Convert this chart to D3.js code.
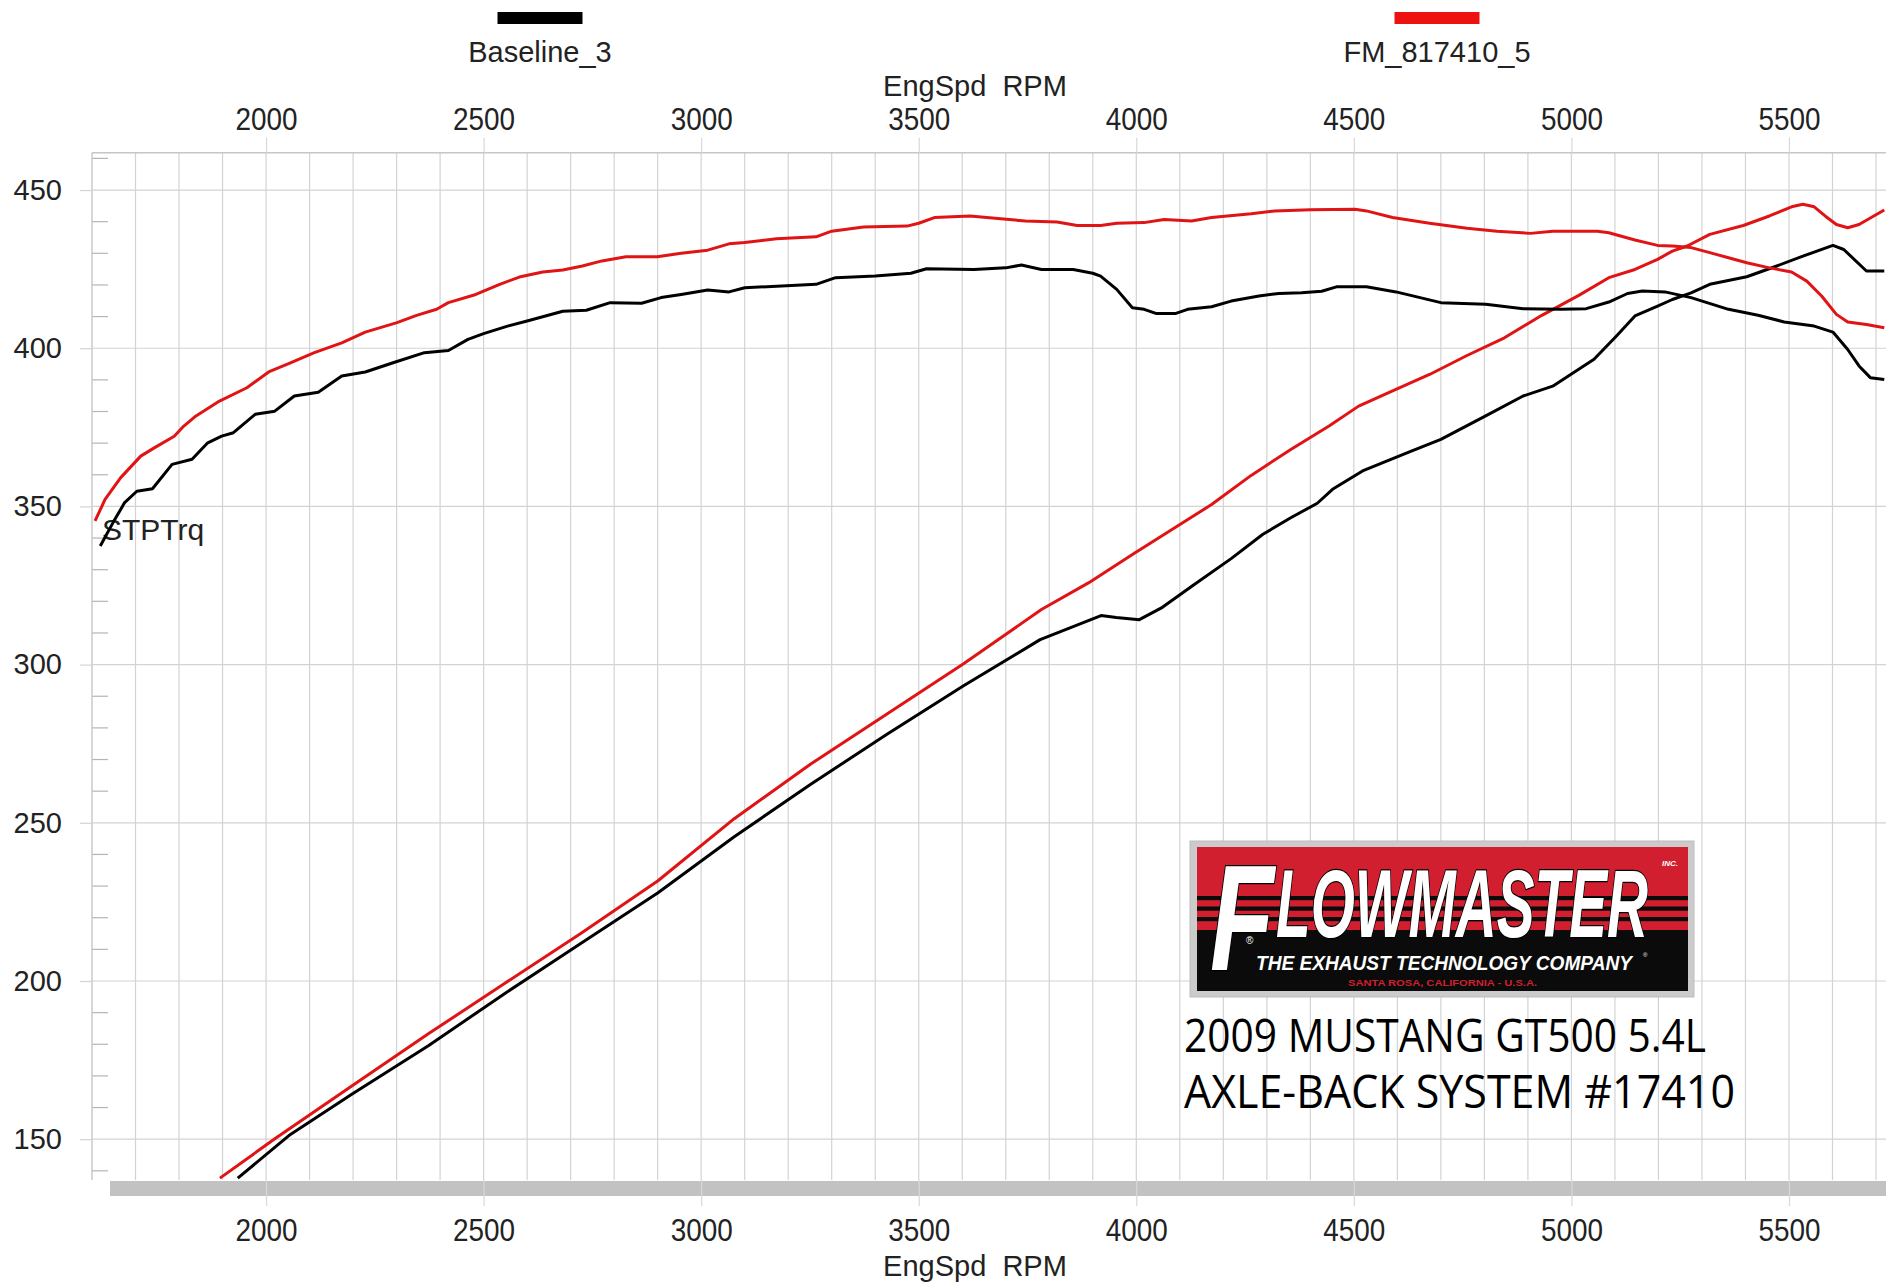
<!DOCTYPE html>
<html><head><meta charset="utf-8">
<script src="https://cdn.jsdelivr.net/npm/d3@7"></script>
<style>body{margin:0;background:#fff;}svg{display:block;}</style>
</head><body>
<script>
// ---------- DATA ----------
const seriesNames = ["Baseline_3", "FM_817410_5"];
const xTickLabels = [2000, 2500, 3000, 3500, 4000, 4500, 5000, 5500];
const yTickLabels = [150, 200, 250, 300, 350, 400, 450];

// Baseline_3 torque (STPTrq)
const baseTqRpm = [1619,1648,1675,1703,1739,1784,1830,1866,1898,1925,1975,2020,2065,2120,2174,2228,2292,2364,2419,2464,2500,2555,2600,2682,2736,2791,2863,2908,2954,3015,3064,3100,3264,3309,3400,3482,3518,3627,3700,3736,3782,3855,3900,3918,3955,3991,4018,4045,4091,4118,4173,4218,4282,4327,4380,4426,4460,4529,4597,4700,4803,4889,4975,5034,5086,5129,5163,5215,5275,5361,5429,5489,5558,5601,5635,5661,5687,5719];
const baseTq    = [337.5,344.8,351.2,354.8,355.6,363.3,364.9,370.1,372.2,373.3,379.1,380.1,384.9,386.1,391.2,392.5,395.4,398.6,399.3,402.8,404.6,407.0,408.6,411.7,412.0,414.4,414.2,416.0,417.0,418.4,417.8,419.1,420.2,422.3,422.8,423.7,425.1,424.9,425.4,426.3,424.9,424.9,423.7,422.8,418.6,412.8,412.3,411.0,411.0,412.3,413.1,414.9,416.5,417.3,417.5,418.0,419.4,419.4,417.8,414.4,413.9,412.5,412.3,412.5,414.6,417.3,418.1,417.8,416.0,412.3,410.4,408.3,407.0,405.1,399.6,394.4,390.7,390.1];

// FM_817410_5 torque
const fmTqRpm = [1607,1630,1666,1712,1743,1789,1811,1839,1893,1956,2006,2056,2111,2174,2228,2301,2346,2392,2419,2482,2537,2582,2636,2682,2727,2772,2827,2899,2954,3015,3064,3100,3173,3264,3300,3373,3473,3500,3536,3618,3682,3745,3818,3864,3918,3955,4018,4064,4127,4173,4264,4318,4400,4503,4529,4589,4674,4760,4829,4906,4957,5060,5086,5146,5198,5232,5275,5318,5361,5403,5455,5506,5541,5575,5609,5635,5678,5719];
const fmTq    = [345.4,352.2,359.1,365.9,368.5,372.2,375.4,378.6,383.3,387.5,392.5,395.4,398.6,401.7,405.1,408.1,410.4,412.3,414.4,417.0,420.2,422.5,424.1,424.7,426.0,427.6,428.9,428.9,430.0,431.0,433.0,433.4,434.6,435.2,437.0,438.3,438.6,439.5,441.3,441.8,441.0,440.2,439.9,438.8,438.8,439.5,439.7,440.7,440.2,441.3,442.5,443.4,443.8,443.9,443.4,441.3,439.5,437.9,437.0,436.3,437.0,437.0,436.5,434.2,432.5,432.3,431.8,430.2,428.6,427.0,425.4,424.1,421.2,416.5,410.7,408.3,407.5,406.5];

// Baseline_3 power
const baseHpRpm = [1935,2056,2197,2373,2548,2724,2900,3076,3251,3427,3603,3779,3919,3954,4007,4060,4130,4218,4291,4355,4416,4451,4520,4632,4700,4803,4889,4957,5052,5103,5146,5198,5232,5275,5318,5403,5472,5532,5601,5626,5678,5719];
const baseHp    = [137.7,151.5,164.2,179.5,196.0,211.9,227.8,245.6,262.1,278.0,293.3,307.9,315.5,314.9,314.2,318.1,325.0,333.5,341.2,346.4,351.0,355.4,361.2,367.5,371.2,378.6,384.9,388.0,396.5,403.8,410.2,413.3,415.4,417.5,420.2,422.6,426.0,429.1,432.5,431.2,424.4,424.4];

// FM_817410_5 power
const fmHpRpm = [1894,2021,2197,2373,2548,2724,2900,3076,3251,3427,3603,3782,3891,3991,4082,4173,4264,4355,4443,4511,4589,4674,4760,4846,4932,5017,5086,5146,5198,5232,5266,5318,5395,5455,5506,5532,5558,5583,5609,5635,5661,5695,5719];
const fmHp    = [137.7,150.2,166.8,183.3,199.2,215.1,231.6,251.3,268.5,284.4,300.3,317.4,325.9,334.8,342.7,350.6,359.8,368.0,375.4,381.7,386.5,391.7,397.7,403.3,410.4,416.7,422.3,424.9,428.1,430.7,432.3,436.0,438.8,441.8,444.7,445.5,444.7,441.8,439.1,438.1,439.1,441.8,443.7];

// ---------- LAYOUT ----------
const W = 1886, H = 1283;
const PL = 92, PR = 1886, PT = 152.7, PB = 1180;
const RED = "#e01414", BLACK = "#000";
const FONT = "'Liberation Sans', Arial, sans-serif";

const x = d3.scaleLinear().domain([1600, 5700]).range([PL, 1876]);
const y = d3.scaleLinear().domain([137.1, 461.8]).range([PB, PT]);

const svg = d3.select("body").append("svg").attr("width", W).attr("height", H)
  .style("font-family", FONT);

svg.append("defs").append("clipPath").attr("id", "plot")
  .append("rect").attr("x", PL).attr("y", PT).attr("width", PR - PL).attr("height", PB - PT);

// grid
const grid = svg.append("g").attr("stroke", "#d3d3d3").attr("stroke-width", 1.2);
grid.selectAll(".vx").data(d3.range(1700, 5801, 100)).join("line")
  .attr("x1", d => x(d)).attr("x2", d => x(d)).attr("y1", PT).attr("y2", PB);
grid.selectAll(".hy").data(yTickLabels).join("line")
  .attr("x1", PL).attr("x2", PR).attr("y1", d => y(d)).attr("y2", d => y(d));
// minor y ticks
svg.append("g").attr("stroke", "#b5b5b5").attr("stroke-width", 1.2)
  .selectAll("line").data(d3.range(140, 461, 10).filter(v => v % 50 !== 0)).join("line")
  .attr("x1", PL).attr("x2", PL + 16).attr("y1", d => y(d)).attr("y2", d => y(d));

// borders
svg.append("line").attr("x1", PL).attr("x2", PL).attr("y1", PT).attr("y2", PB).attr("stroke", "#c6c6c6").attr("stroke-width", 1.4);
svg.append("line").attr("x1", PL).attr("x2", PR).attr("y1", PT).attr("y2", PT).attr("stroke", "#c6c6c6").attr("stroke-width", 1.4);

// grey bar at bottom
svg.append("rect").attr("x", 110).attr("y", 1181).attr("width", PR - 110).attr("height", 15).attr("fill", "#c2c2c2");

// axes
function styleAxis(g, fs, tl) {
  g.select(".domain").remove();
  g.selectAll(".tick line").attr("stroke", "#d8d8d8").attr("stroke-width", 1.2);
  const t = g.selectAll(".tick text").attr("fill", "#222").style("font-size", fs + "px").style("font-family", FONT);
  if (tl) t.attr("textLength", tl).attr("lengthAdjust", "spacingAndGlyphs");
}
svg.append("g").attr("transform", `translate(0,${PT})`)
  .call(d3.axisTop(x).tickValues(xTickLabels).tickSize(15).tickPadding(8).tickFormat(d3.format("d")))
  .call(g => styleAxis(g, 31, 62));
svg.append("g").attr("transform", `translate(0,${PB})`)
  .call(d3.axisBottom(x).tickValues(xTickLabels).tickSize(26).tickPadding(13).tickFormat(d3.format("d")))
  .call(g => styleAxis(g, 31, 62));
svg.append("g").attr("transform", `translate(${PL},0)`)
  .call(d3.axisLeft(y).tickValues(yTickLabels).tickSize(12).tickPadding(18))
  .call(g => styleAxis(g, 29))
  .call(g => g.selectAll(".tick line").attr("stroke", "#d3d3d3"));

// axis titles
svg.append("text").attr("x", 975).attr("y", 96).attr("text-anchor", "middle")
  .style("font-size", "29px").style("white-space", "pre").attr("fill", "#222").text("EngSpd  RPM");
svg.append("text").attr("x", 975).attr("y", 1276).attr("text-anchor", "middle")
  .style("font-size", "29px").style("white-space", "pre").attr("fill", "#222").text("EngSpd  RPM");

// legend
const legendX = [540, 1437];
const legendCol = [BLACK, "#ee1111"];
seriesNames.forEach((n, i) => {
  svg.append("rect").attr("x", legendX[i] - 42.5).attr("y", 12).attr("width", 85).attr("height", 12).attr("fill", legendCol[i]);
  svg.append("text").attr("x", legendX[i]).attr("y", 62).attr("text-anchor", "middle")
    .style("font-size", "29px").attr("fill", "#222").text(n);
});

// STPTrq label
svg.append("text").attr("x", 102).attr("y", 540).style("font-size", "30px").attr("fill", "#222").text("STPTrq");

// lines
const line = d3.line().x(d => x(d[0])).y(d => y(d[1]));
const lines = svg.append("g").attr("clip-path", "url(#plot)").attr("fill", "none")
  .attr("stroke-width", 3).attr("stroke-linejoin", "round");
lines.append("path").datum(d3.zip(baseHpRpm, baseHp)).attr("d", line).attr("stroke", BLACK);
lines.append("path").datum(d3.zip(fmHpRpm, fmHp)).attr("d", line).attr("stroke", RED);
lines.append("path").datum(d3.zip(baseTqRpm, baseTq)).attr("d", line).attr("stroke", BLACK);
lines.append("path").datum(d3.zip(fmTqRpm, fmTq)).attr("d", line).attr("stroke", RED);

// ---------- LOGO ----------
const LR = "#d21f2f";
const logo = svg.append("g");
logo.append("rect").attr("x", 1190).attr("y", 841).attr("width", 504).attr("height", 156).attr("fill", "#cbcbcb").attr("stroke", "#bdbdbd");
logo.append("rect").attr("x", 1197).attr("y", 847).attr("width", 491).attr("height", 84).attr("fill", LR);
logo.append("rect").attr("x", 1197).attr("y", 930).attr("width", 491).attr("height", 61).attr("fill", "#0b0b0b");
[896, 906.5, 917].forEach(s => logo.append("rect").attr("x", 1197).attr("y", s).attr("width", 491).attr("height", 4.2).attr("fill", "#0b0b0b"));
const bigF = {"font-family": "'Liberation Sans', Arial, sans-serif", "font-weight": "bold", "font-style": "italic"};
const t1 = logo.append("text").attr("x", 1276).attr("y", 937).attr("textLength", 372).attr("lengthAdjust", "spacingAndGlyphs")
  .style("font-size", "96px").attr("fill", "#fff").attr("stroke", "#000").attr("stroke-width", 2.5).style("paint-order", "stroke").text("LOWMASTER");
const t0 = logo.append("text").attr("x", 1210).attr("y", 970).attr("textLength", 64).attr("lengthAdjust", "spacingAndGlyphs")
  .style("font-size", "150px").attr("fill", "#fff").attr("stroke", "#000").attr("stroke-width", 2.5).style("paint-order", "stroke").text("F");
[t0, t1].forEach(t => Object.entries(bigF).forEach(([k, v]) => t.style(k, v)));
logo.append("text").attr("x", 1662).attr("y", 866).style("font-size", "8px").style("font-weight", "bold").style("font-style", "italic").attr("fill", "#fff").text("INC.");
logo.append("text").attr("x", 1246).attr("y", 944).style("font-size", "10px").attr("fill", "#fff").text("®");
logo.append("text").attr("x", 1256).attr("y", 970).attr("textLength", 376).attr("lengthAdjust", "spacingAndGlyphs")
  .style("font-size", "21px").style("font-weight", "bold").style("font-style", "italic").attr("fill", "#fff").text("THE EXHAUST  TECHNOLOGY COMPANY");
logo.append("text").attr("x", 1643).attr("y", 957).style("font-size", "6px").attr("fill", "#fff").text("®");
logo.append("text").attr("x", 1348).attr("y", 986).attr("textLength", 189).attr("lengthAdjust", "spacingAndGlyphs")
  .style("font-size", "9.5px").style("font-weight", "bold").attr("fill", LR).text("SANTA ROSA, CALIFORNIA - U.S.A.");

// caption
const capFont = "'Open Sans', 'Noto Sans', sans-serif";
svg.append("text").attr("x", 1184).attr("y", 1052).attr("textLength", 522).attr("lengthAdjust", "spacingAndGlyphs")
  .style("font-family", capFont).style("font-size", "45px").attr("fill", "#000").text("2009 MUSTANG GT500 5.4L");
svg.append("text").attr("x", 1184).attr("y", 1107.5).attr("textLength", 551).attr("lengthAdjust", "spacingAndGlyphs")
  .style("font-family", capFont).style("font-size", "45px").attr("fill", "#000").text("AXLE-BACK SYSTEM #17410");
</script>
</body></html>
